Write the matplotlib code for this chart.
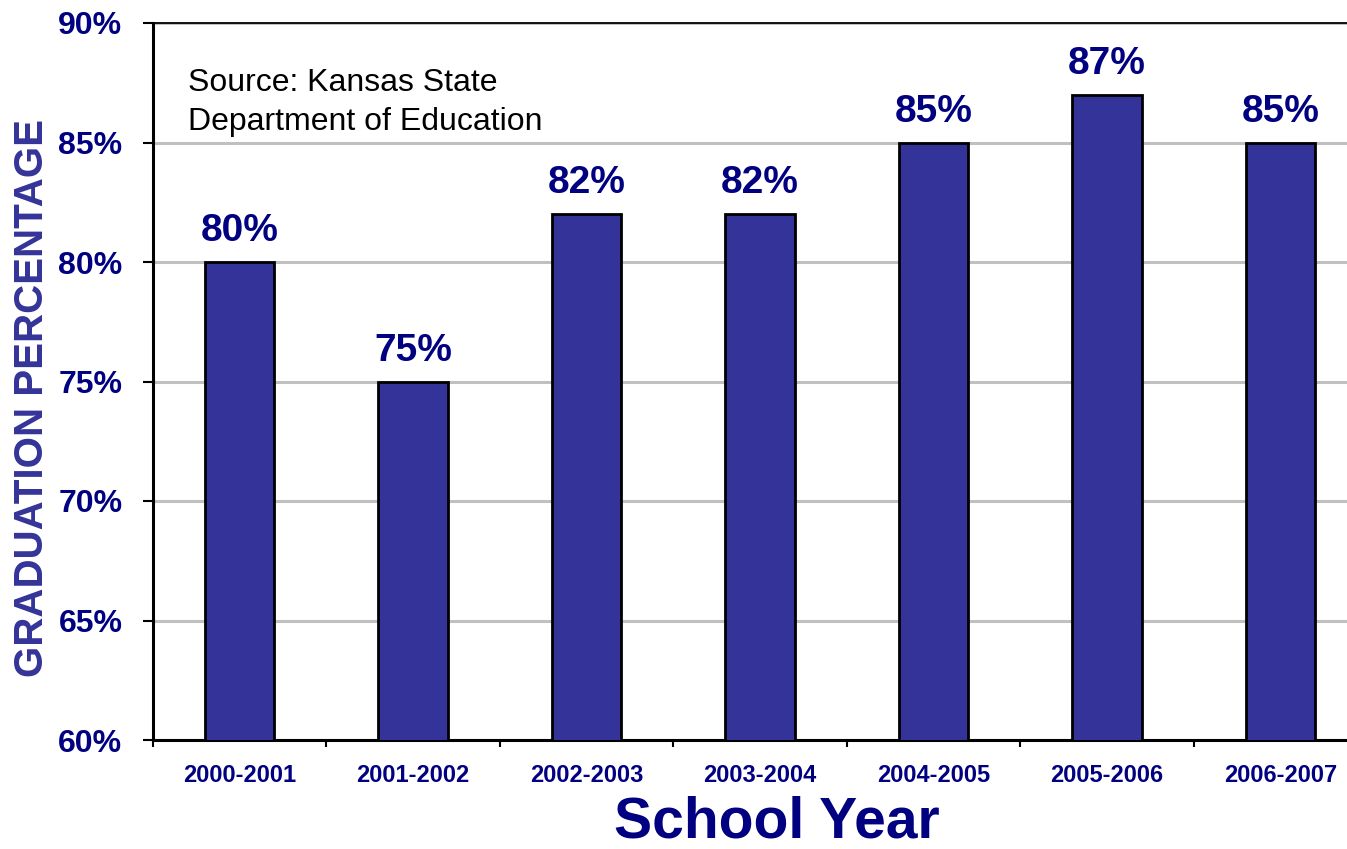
import numpy as np
import matplotlib
matplotlib.use('Agg')
import matplotlib.pyplot as plt

plt.rcParams['font.family'] = ['Liberation Sans', 'DejaVu Sans']

years = ['2000-2001', '2001-2002', '2002-2003', '2003-2004',
         '2004-2005', '2005-2006', '2006-2007']
grad_pct = [80, 75, 82, 82, 85, 87, 85]
y_ticks = [60, 65, 70, 75, 80, 85, 90]

W, H = 1347, 849
fig = plt.figure(figsize=(W / 100, H / 100), dpi=100)
ax = fig.add_axes([153 / W, 1 - 740 / H, 1214 / W, 717 / H])

x = np.arange(len(years))
ax.bar(x, grad_pct, width=0.40, color='#333399', edgecolor='black',
       linewidth=2, zorder=3)

for xi, v in zip(x, grad_pct):
    ax.annotate('%d%%' % v, (xi, v), xytext=(0, 15), textcoords='offset points',
                ha='center', va='baseline', fontsize=28, fontweight='bold',
                color='#000080')

ax.set_xlim(-0.5, len(years) - 0.5)
ax.set_ylim(60, 90)
ax.set_yticks(y_ticks)
ax.set_yticklabels(['%d%%' % t for t in y_ticks], fontsize=23,
                   fontweight='bold', color='#000080')
ax.yaxis.grid(True, color='#C0C0C0', linewidth=2.2, zorder=0)
ax.set_axisbelow(True)
ax.tick_params(axis='y', direction='out', length=7, width=1.5, pad=15)

ax.set_xticks(x)
ax.set_xticklabels(years, fontsize=17, fontweight='bold', color='#000080')
ax.set_xticks(np.arange(len(years) + 1) - 0.5, minor=True)
ax.tick_params(axis='x', which='major', length=0, pad=17)
ax.tick_params(axis='x', which='minor', direction='out', length=5, width=1.5)

ax.spines['right'].set_visible(False)
ax.spines['left'].set_linewidth(2.2)
ax.spines['bottom'].set_linewidth(2.2)
ax.spines['top'].set_linewidth(1.3)

fig.text(188 / W, 1 - 68 / H, 'Source: Kansas State\nDepartment of Education',
         fontsize=23, color='black', ha='left', va='top', linespacing=1.38)

fig.text(777 / W, 1 - 838 / H, 'School Year', fontsize=41, fontweight='bold',
         color='#000080', ha='center', va='baseline')
fig.text(32 / W, 1 - 398 / H, 'GRADUATION PERCENTAGE', fontsize=29,
         fontweight='bold', color='#333399', ha='center', va='center',
         rotation=90)

fig.savefig('out.png', dpi=100)
